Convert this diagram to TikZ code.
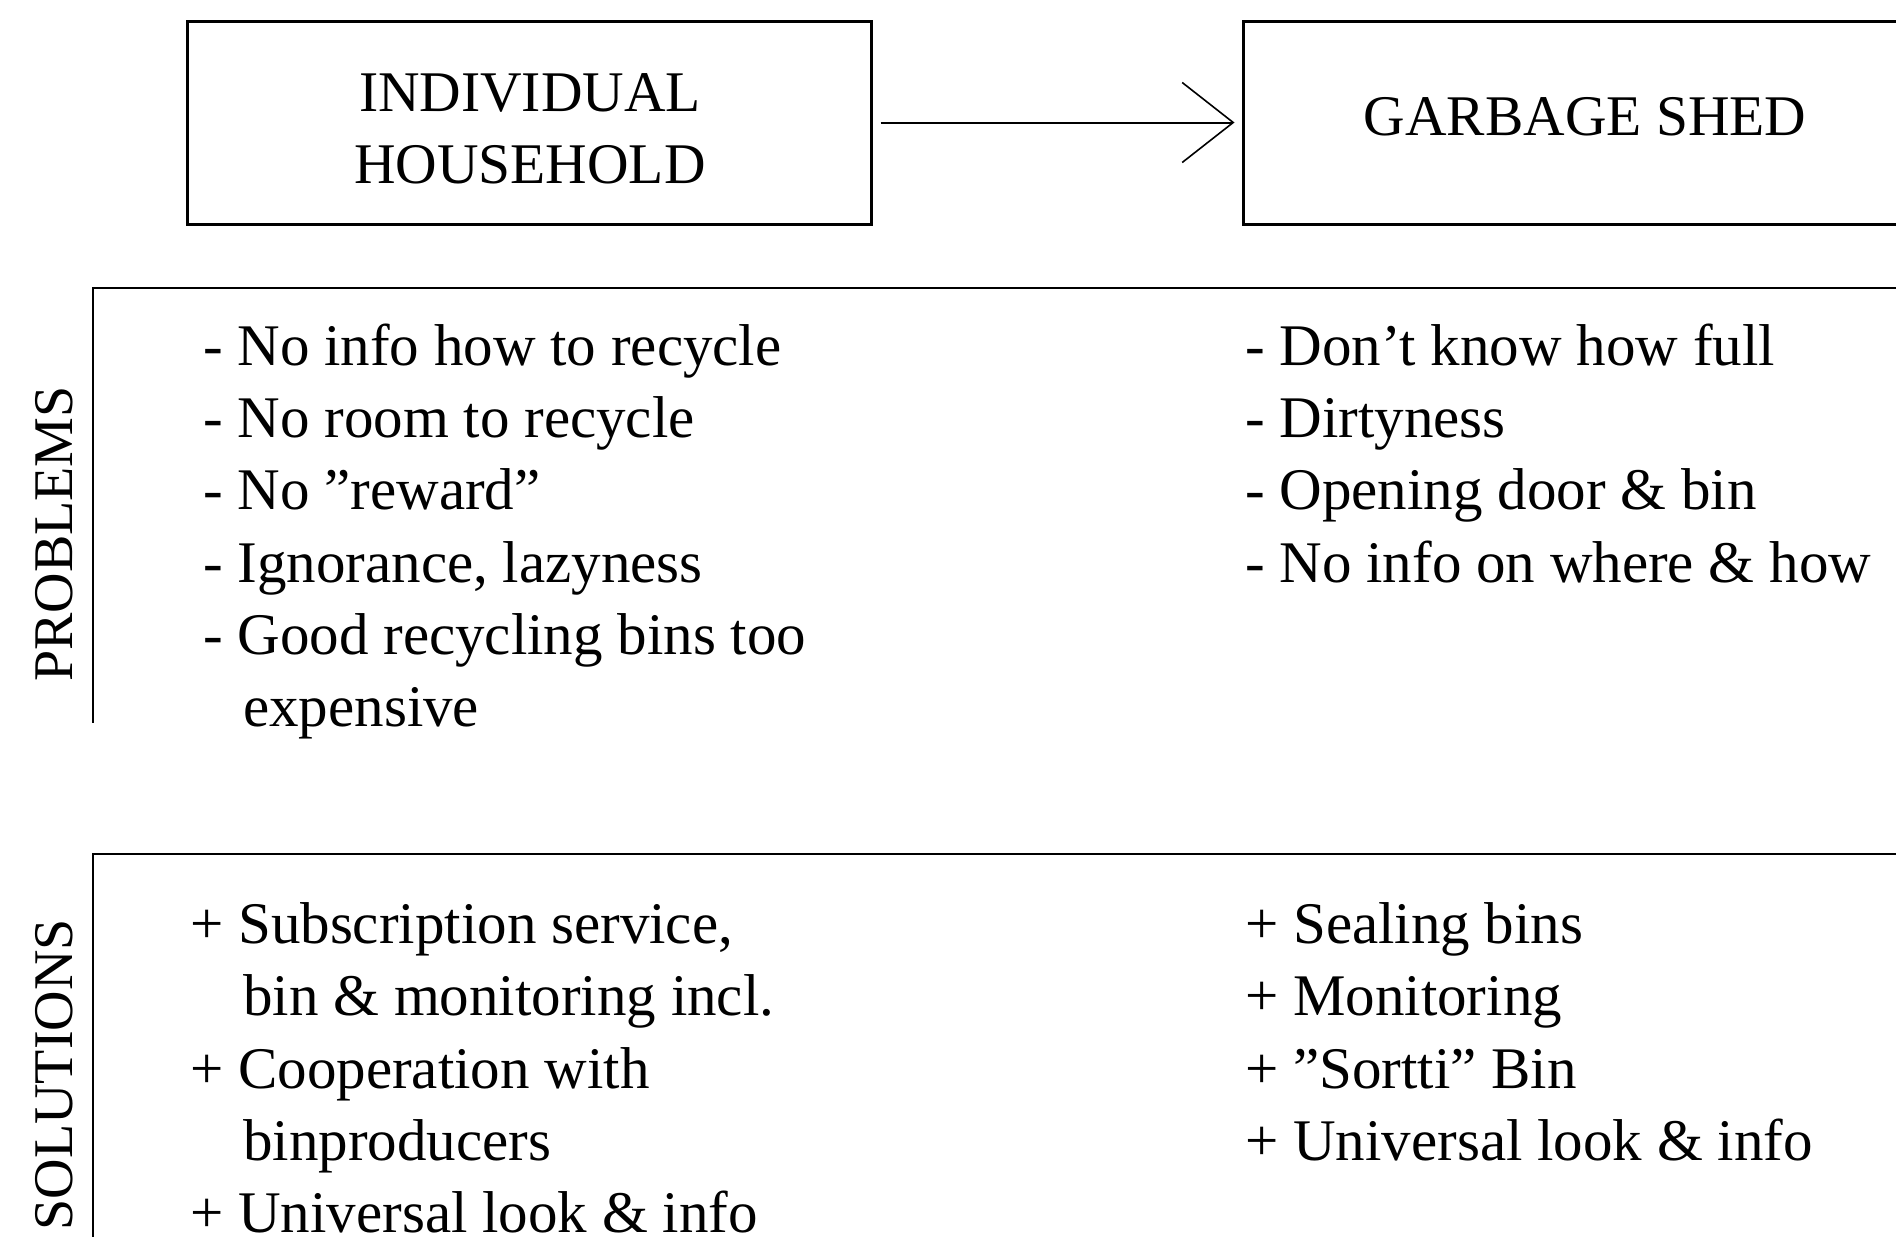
\documentclass[tikz,border=0pt]{standalone}
\usepackage{fontspec}
\setmainfont{Liberation Serif}
\usetikzlibrary{arrows.meta}
\tikzset{
  hbox/.style={draw, line width=3pt, inner sep=0pt},
  sline/.style={line width=1.6pt},
  txt/.style={anchor=base west, inner sep=0pt, font=\fontsize{59}{72}\selectfont},
  htxt/.style={anchor=base, inner sep=0pt, font=\fontsize{57.5}{70}\selectfont},
  side/.style={rotate=90, inner sep=0pt, font=\fontsize{56}{60}\selectfont},
  flow/.style={line width=2pt, -{Straight Barb[length=51pt,width=80pt,line width=1.6pt]}}
}
\begin{document}
\begin{tikzpicture}[x=1pt,y=-1pt]
\useasboundingbox (0,0) rectangle (1896,1237);
\clip (0,0) rectangle (1896,1237);
% header boxes
\node[hbox, minimum width=684pt, minimum height=203pt] (hh) at (529,122.5) {};
\node[hbox, minimum width=700pt, minimum height=203pt] (gs) at (1593,122.5) {};
\node[htxt] (hh1) at (530,111) {INDIVIDUAL};
\node[htxt] (hh2) at (530,183) {HOUSEHOLD};
\node[htxt] (gs1) at (1585,135) {GARBAGE SHED};
\draw[flow, shorten <=8pt, shorten >=7pt] (hh.east) -- (gs.west);
% section frames
\coordinate (pc) at (93,288);
\coordinate (pr) at (1960,288);
\coordinate (pb) at (93,723);
\coordinate (sc) at (93,854);
\coordinate (sr) at (1960,854);
\coordinate (sb) at (93,1300);
\draw[sline] (pr) -- (pc) -- (pb);
\draw[sline] (sr) -- (sc) -- (sb);
\node[side] (plab) at (54,534) {PROBLEMS};
\node[side, anchor=east] (slab) at (54,919) {SOLUTIONS};
% problems, household
\node[txt] (p1) at (203,365) {- No info how to recycle};
\node[txt] (p2) at (203,437) {- No room to recycle};
\node[txt] (p3) at (203,509) {- No ”reward”};
\node[txt] (p4) at (203,582) {- Ignorance, lazyness};
\node[txt] (p5) at (203,654) {- Good recycling bins too};
\node[txt] (p6) at (243,726) {expensive};
% problems, shed
\node[txt] (q1) at (1245,365) {- Don’t know how full};
\node[txt] (q2) at (1245,437) {- Dirtyness};
\node[txt] (q3) at (1245,509) {- Opening door \& bin};
\node[txt] (q4) at (1245,582) {- No info on where \& how};
% solutions, household
\node[txt] (s1) at (190,943) {+ Subscription service,};
\node[txt] (s2) at (243,1015) {bin \& monitoring incl.};
\node[txt] (s3) at (190,1088) {+ Cooperation with};
\node[txt] (s4) at (243,1160) {binproducers};
\node[txt] (s5) at (190,1232) {+ Universal look \& info};
% solutions, shed
\node[txt] (t1) at (1245,943) {+ Sealing bins};
\node[txt] (t2) at (1245,1015) {+ Monitoring};
\node[txt] (t3) at (1245,1088) {+ ”Sortti” Bin};
\node[txt] (t4) at (1245,1160) {+ Universal look \& info};
\end{tikzpicture}
\end{document}
